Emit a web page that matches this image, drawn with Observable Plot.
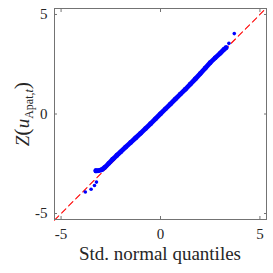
<!DOCTYPE html>
<html>
<head>
<meta charset="utf-8">
<script src="https://cdn.jsdelivr.net/npm/d3@7"></script>
<script src="https://cdn.jsdelivr.net/npm/@observablehq/plot@0.6"></script>
<style>
  html, body { margin: 0; padding: 0; background: #fff; }
  #chart { width: 273px; height: 273px; }
  #chart svg text, #chart svg tspan { font-family: 'Liberation Serif', 'DejaVu Serif', serif !important; }
</style>
</head>
<body>
<div id="chart"></div>
<script>
// Axis settings
const xDomain = [-5.33, 5.33];
const yDomain = [-5.3, 5.3];
const tickValues = [-5, 0, 5];

// Dense body of the Q-Q plot (std. normal quantile, sample quantile)
const bandX = [-3.25, -3.1, -2.95, -2.8, -2.6, -2.4, -2.2, -2.0, -1.75, -1.5, -1.25, -1.0, -0.75, -0.5, -0.25, 0, 0.25, 0.5, 0.75, 1.0, 1.25, 1.5, 1.75, 2.0, 2.25, 2.5, 2.75, 3.0, 3.2, 3.3];
const bandY = [-2.85, -2.84, -2.8, -2.68, -2.48, -2.27, -2.08, -1.9, -1.66, -1.43, -1.2, -0.97, -0.73, -0.49, -0.24, 0.01, 0.26, 0.5, 0.75, 1.0, 1.24, 1.5, 1.76, 2.03, 2.3, 2.58, 2.82, 3.05, 3.25, 3.33];

// Isolated tail points
const tailX = [-3.78, -3.49, -3.32, -3.22, 3.44, 3.71];
const tailY = [-3.92, -3.78, -3.59, -3.42, 3.55, 4.04];

const band = bandX.map((x, i) => ({x, y: bandY[i]}));
const tails = tailX.map((x, i) => ({x, y: tailY[i]}));
const refLine = xDomain.map(v => ({x: v, y: v}));

const font = "'Liberation Serif', 'DejaVu Serif', serif";
const axisColor = "#737373";

const plot = Plot.plot({
  width: 273,
  height: 273,
  marginLeft: 54,
  marginRight: 7,
  marginTop: 8,
  marginBottom: 54,
  style: {fontSize: "14px", color: "#262626", background: "#fff"},
  x: {domain: xDomain, label: null, axis: null},
  y: {domain: yDomain, label: null, axis: null},
  marks: [
    Plot.line(refLine, {x: "x", y: "y", stroke: "#ff0000", strokeWidth: 1.1, strokeDasharray: "6,4"}),
    Plot.line(band, {x: "x", y: "y", stroke: "#0000ff", strokeWidth: 4.8, strokeLinecap: "round"}),
    Plot.dot(band, {x: "x", y: "y", r: 2.4, fill: "#0000ff"}),
    Plot.dot(tails, {x: "x", y: "y", r: 1.8, fill: "#0000ff"}),
    Plot.frame({stroke: axisColor, strokeWidth: 1}),
    Plot.axisX(tickValues, {anchor: "bottom", tickSize: 0, tickPadding: 9, fontSize: 15, tickFormat: d => String(d), fill: "#262626"}),
    Plot.axisX(tickValues, {anchor: "bottom", tickSize: -3, tickFormat: () => "", stroke: axisColor}),
    Plot.axisX(tickValues, {anchor: "top", tickSize: -3, tickFormat: () => "", stroke: axisColor}),
    Plot.axisY(tickValues, {anchor: "left", tickSize: 0, tickPadding: 7, fontSize: 15, tickFormat: d => String(d), fill: "#262626"}),
    Plot.axisY(tickValues, {anchor: "left", tickSize: -3, tickFormat: () => "", stroke: axisColor}),
    Plot.axisY(tickValues, {anchor: "right", tickSize: -3, tickFormat: () => "", stroke: axisColor})
  ]
});

const svg = d3.select(plot);
// x axis title
svg.append("text")
  .attr("x", 160)
  .attr("y", 260)
  .attr("text-anchor", "middle")
  .attr("font-size", 19)
  .attr("fill", "#262626")
  .text("Std. normal quantiles");

// y axis title: Z(u_{Apat,t})
const yl = svg.append("text")
  .attr("transform", "translate(29,114) rotate(-90)")
  .attr("text-anchor", "middle")
  .attr("font-size", 19)
  .attr("fill", "#262626");
yl.append("tspan").attr("font-style", "italic").text("Z");
yl.append("tspan").attr("font-size", 22).text("(");
yl.append("tspan").attr("font-style", "italic").text("u");
yl.append("tspan").attr("font-size", 12).attr("dy", 4).text("Apat,");
yl.append("tspan").attr("font-size", 12).attr("font-style", "italic").text("t");
yl.append("tspan").attr("font-size", 22).attr("dy", -4).text(")");

svg.selectAll("text, tspan").style("font-family", font);

document.getElementById("chart").appendChild(plot);
</script>
</body>
</html>
